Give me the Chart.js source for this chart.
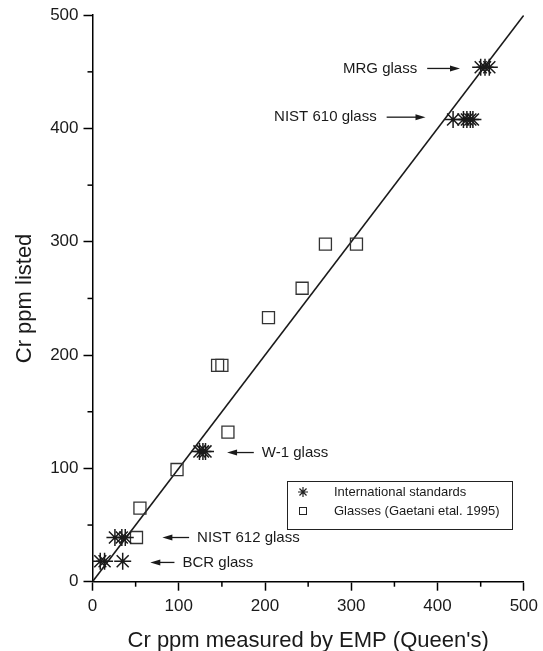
<!DOCTYPE html>
<html lang="en">
<head>
  <meta charset="UTF-8">
  <title>Cr ppm listed vs measured by EMP</title>
  <script src="https://cdn.jsdelivr.net/npm/chart.js"></script>
  <style>
    html, body { margin: 0; padding: 0; background: #fff; }
    canvas { display: block; }
  </style>
</head>
<body>
  <canvas id="cr-chart" width="543" height="651"></canvas>

  <script>
    // International standards (asterisks): measured (x) vs listed (y)
    const stdMeasured = [450, 455, 460, 418, 430, 434, 438, 441, 124, 128, 131, 26, 34, 38, 9, 14, 35];
    const stdListed   = [454, 454, 454, 408, 408, 408, 408, 408, 115, 115, 115, 39, 39, 39, 18, 18, 18];

    // Glasses (Gaetani et al. 1995) (open squares)
    const glassMeasured = [51, 55, 98, 157, 145, 150, 204, 243, 270, 306];
    const glassListed   = [39, 65, 99, 132, 191, 191, 233, 259, 298, 298];

    // 1:1 reference line
    const lineX = [0, 500];
    const lineY = [0, 500];

    const axisTicks = [0, 100, 200, 300, 400, 500];
    const minorTicks = [50, 150, 250, 350, 450];

    const seriesLabels = ['International standards', 'Glasses (Gaetani etal. 1995)'];

    // labelled standards: label, listed value, arrow tail/head (measured units), side of text
    const callouts = [
      { text: 'MRG glass',      y: 453, from: 388, to: 426, side: 'left' },
      { text: 'NIST 610 glass', y: 410, from: 341, to: 386, side: 'left' },
      { text: 'W-1 glass',      y: 114, from: 187, to: 156, side: 'right' },
      { text: 'NIST 612 glass', y: 39,  from: 112, to: 81,  side: 'right' },
      { text: 'BCR glass',      y: 17,  from: 95,  to: 67,  side: 'right' }
    ];

    const toPoints = (xs, ys) => xs.map((x, i) => ({ x: x, y: ys[i] }));

    const FONT = '"Liberation Sans", Arial, sans-serif';
    const INK = '#1a1a1a';

    // minor ticks, callouts and the boxed legend
    const extrasPlugin = {
      id: 'extras',
      afterDraw(chart) {
        const ctx = chart.ctx;
        const xs = chart.scales.x;
        const ys = chart.scales.y;
        const area = chart.chartArea;

        ctx.save();
        ctx.strokeStyle = '#000';
        ctx.lineWidth = 1.5;
        minorTicks.forEach(v => {
          const px = xs.getPixelForValue(v);
          ctx.beginPath();
          ctx.moveTo(px, area.bottom);
          ctx.lineTo(px, area.bottom + 5);
          ctx.stroke();
          const py = ys.getPixelForValue(v);
          ctx.beginPath();
          ctx.moveTo(area.left - 5, py);
          ctx.lineTo(area.left, py);
          ctx.stroke();
        });

        // callouts
        ctx.fillStyle = INK;
        ctx.strokeStyle = INK;
        ctx.lineWidth = 1.3;
        ctx.font = '15px ' + FONT;
        ctx.textBaseline = 'middle';
        callouts.forEach(c => {
          const py = ys.getPixelForValue(c.y);
          const x1 = xs.getPixelForValue(c.from);
          const x2 = xs.getPixelForValue(c.to);
          const dir = Math.sign(x2 - x1);
          ctx.beginPath();
          ctx.moveTo(x1, py);
          ctx.lineTo(x2 - dir * 8, py);
          ctx.stroke();
          ctx.beginPath();
          ctx.moveTo(x2, py);
          ctx.lineTo(x2 - dir * 10, py - 3);
          ctx.lineTo(x2 - dir * 10, py + 3);
          ctx.closePath();
          ctx.fill();
          if (c.side === 'left') {
            ctx.textAlign = 'right';
            ctx.fillText(c.text, Math.min(x1, x2) - 10, py);
          } else {
            ctx.textAlign = 'left';
            ctx.fillText(c.text, Math.max(x1, x2) + 8, py);
          }
        });

        // legend box
        const bx = 287, by = 481, bw = 225, bh = 48;
        ctx.lineWidth = 1;
        ctx.strokeStyle = '#222';
        ctx.strokeRect(bx + 0.5, by + 0.5, bw, bh);
        ctx.font = '13px ' + FONT;
        ctx.textAlign = 'left';
        const rows = [by + 11, by + 30];
        // asterisk
        const sx = bx + 16, r = 5;
        ctx.lineWidth = 1.2;
        ctx.beginPath();
        for (let k = 0; k < 4; k++) {
          const a = k * Math.PI / 4;
          ctx.moveTo(sx - r * Math.cos(a), rows[0] - r * Math.sin(a));
          ctx.lineTo(sx + r * Math.cos(a), rows[0] + r * Math.sin(a));
        }
        ctx.stroke();
        ctx.lineWidth = 1;
        ctx.strokeRect(sx - 3.5, rows[1] - 3.5, 7, 7);
        ctx.fillText(seriesLabels[0], bx + 47, rows[0]);
        ctx.fillText(seriesLabels[1], bx + 47, rows[1]);
        ctx.restore();
      }
    };

    const axisOptions = (title, fit, titlePad) => ({
      type: 'linear',
      min: 0,
      max: 500,
      afterBuildTicks: scale => { scale.ticks = axisTicks.map(v => ({ value: v })); },
      afterFit: fit,
      ticks: {
        color: INK,
        font: { family: FONT, size: 17 },
        padding: 5
      },
      grid: {
        drawOnChartArea: false,
        drawTicks: true,
        tickLength: 9,
        tickColor: '#000',
        tickWidth: 1.5
      },
      border: { display: true, color: '#000', width: 1.5 },
      title: {
        display: true,
        text: title,
        color: INK,
        font: { family: FONT, size: 22 },
        padding: titlePad
      }
    });

    document.addEventListener('DOMContentLoaded', () => {
      const ctx = document.getElementById('cr-chart').getContext('2d');

      new Chart(ctx, {
        type: 'scatter',
        data: {
          datasets: [
            {
              label: seriesLabels[0],
              data: toPoints(stdMeasured, stdListed),
              pointStyle: 'star',
              pointRadius: 8.5,
              borderColor: INK,
              borderWidth: 1.5,
              backgroundColor: INK
            },
            {
              label: seriesLabels[1],
              data: toPoints(glassMeasured, glassListed),
              pointStyle: 'rect',
              pointRadius: 8.5,
              borderColor: '#333',
              borderWidth: 1.3,
              backgroundColor: 'transparent'
            },
            {
              type: 'line',
              label: '1:1',
              data: toPoints(lineX, lineY),
              borderColor: INK,
              borderWidth: 1.6,
              pointRadius: 0,
              fill: false
            }
          ]
        },
        options: {
          responsive: false,
          animation: false,
          devicePixelRatio: 1,
          layout: { padding: { top: 15, right: 17, left: 0, bottom: 0 } },
          scales: {
            x: axisOptions('Cr ppm measured by EMP (Queen\'s)', s => { s.height = 69.3; }, { top: 0, bottom: -3 }),
            y: axisOptions('Cr ppm listed', s => { s.width = 92.5; }, { top: 12, bottom: 0 })
          },
          plugins: {
            legend: { display: false },
            tooltip: { enabled: false }
          }
        },
        plugins: [extrasPlugin]
      });
    });
  </script>
</body>
</html>
